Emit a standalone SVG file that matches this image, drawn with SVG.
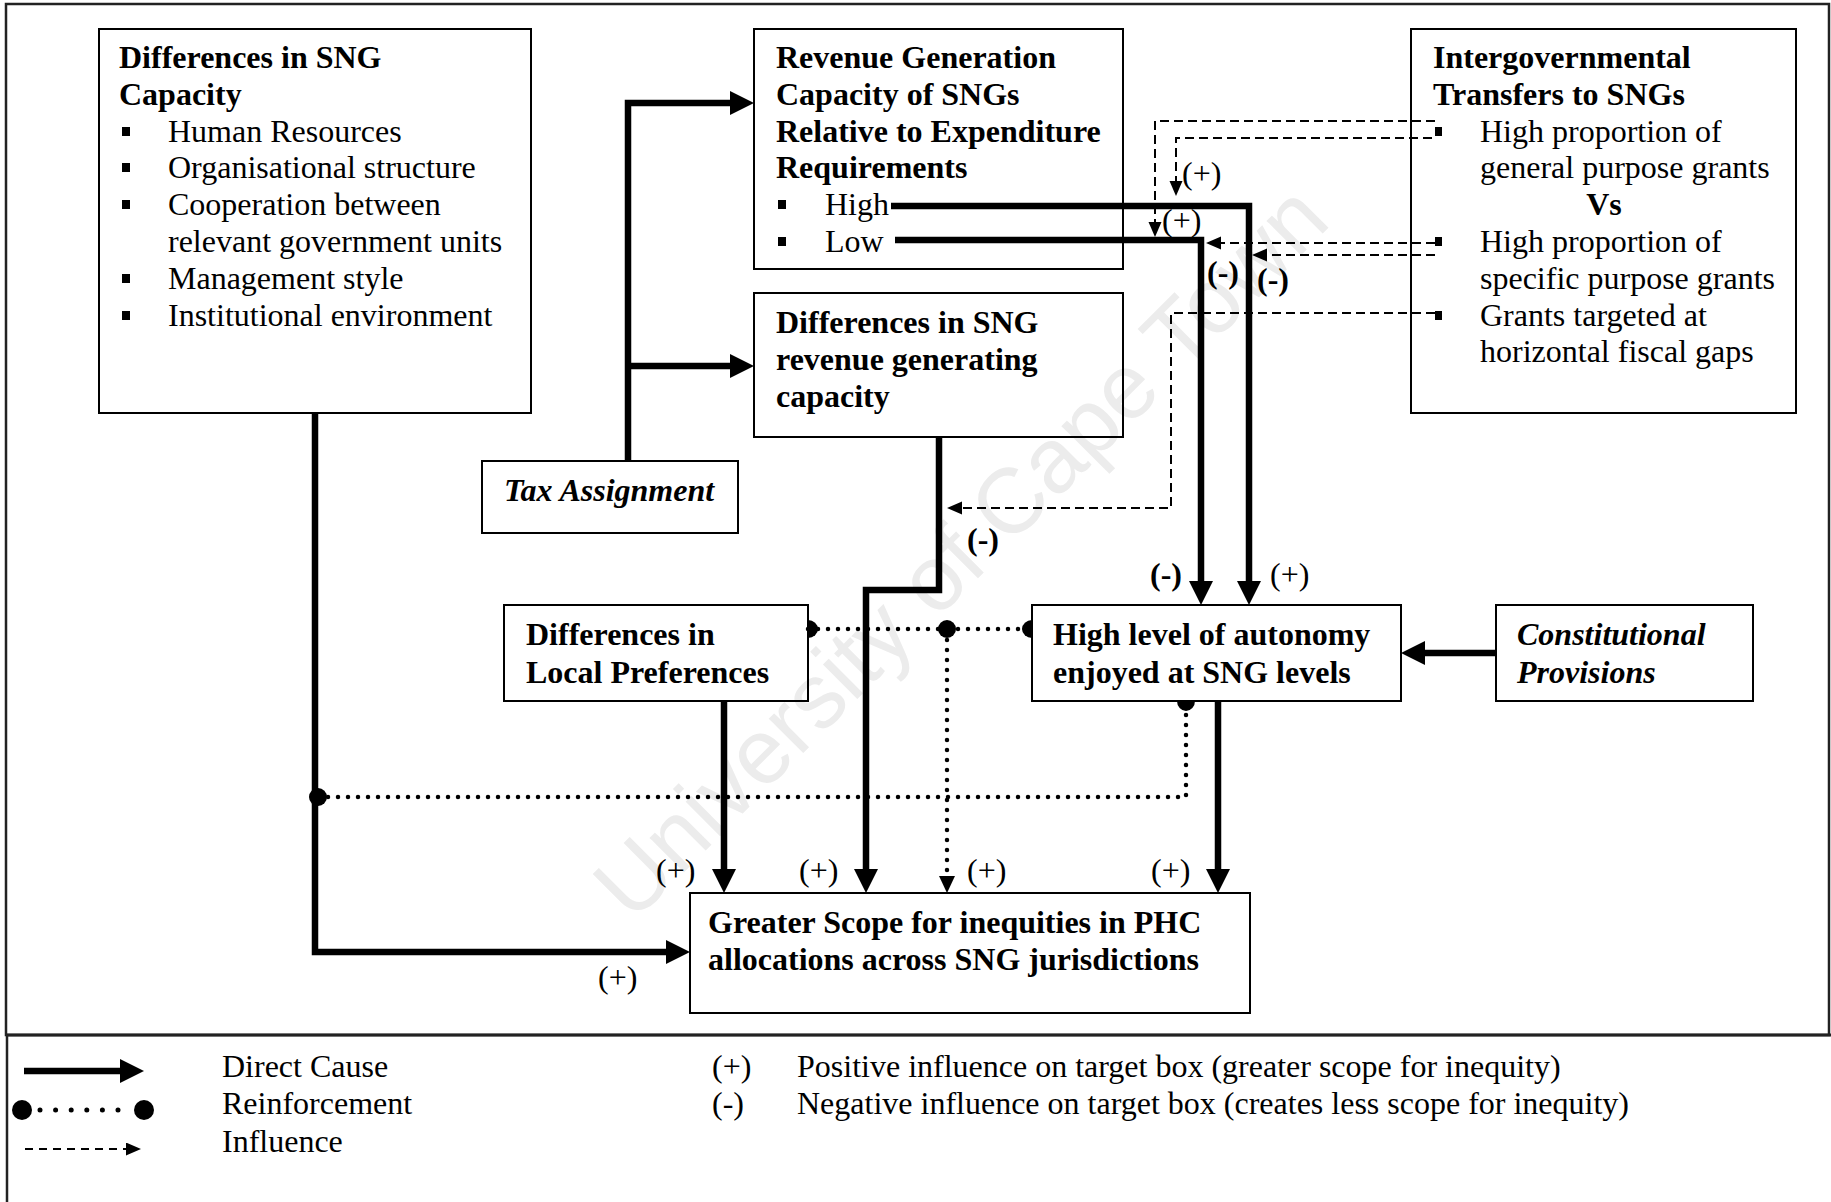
<svg xmlns="http://www.w3.org/2000/svg" width="1831" height="1202" viewBox="0 0 1831 1202">
<defs>
<style>
text{font-family:"Liberation Serif","Times New Roman",serif;font-size:32px;fill:#000}
.b{font-weight:bold}
.bi{font-weight:bold;font-style:italic}
.box{fill:none;stroke:#000;stroke-width:2}
.frame{fill:none;stroke:#222;stroke-width:2.5}
.dc{fill:none;stroke:#000;stroke-width:6.5;stroke-linejoin:miter}
.rf{fill:none;stroke:#000;stroke-width:4.5;stroke-dasharray:0 10;stroke-linecap:round}
.inf{fill:none;stroke:#000;stroke-width:2;stroke-dasharray:9 5}
.wm{font-family:"Liberation Sans",Arial,sans-serif;font-size:92px;fill:#ececec}
.bul{fill:#000}
</style>
<marker id="ah" markerUnits="userSpaceOnUse" markerWidth="26" markerHeight="26" refX="1" refY="12" orient="auto"><path d="M0,0 L24,12 L0,24 z"/></marker>
<marker id="ahs" markerUnits="userSpaceOnUse" markerWidth="16" markerHeight="14" refX="1" refY="6.5" orient="auto"><path d="M0,0 L15,6.5 L0,13 z"/></marker>
<marker id="ahd" markerUnits="userSpaceOnUse" markerWidth="18" markerHeight="17" refX="1" refY="8" orient="auto"><path d="M0,0 L17,8 L0,16 z"/></marker>
</defs>
<rect width="1831" height="1202" fill="#fff"/>
<text class="wm" transform="translate(960,551) rotate(-45)" x="0" y="32" text-anchor="middle">University of Cape Town</text>
<rect class="frame" x="6" y="4" width="1823" height="1031"/>
<g id="connectors">
  <path class="rf" d="M808,629 H1032"/>
  <path class="rf" d="M947,640 V877" marker-end="url(#ahd)"/>
  <path class="rf" d="M318,797 H1186 V708"/>
  <path d="M808,620 A10,9 0 0 1 808,638 z"/>
  <ellipse cx="947" cy="629" rx="9" ry="9"/>
  <path d="M1032,620 A10,9 0 0 0 1032,638 z"/>
  <path d="M1177,701 A9,10 0 0 0 1195,701 z"/>
  <circle cx="318" cy="797" r="9"/>
  <path class="dc" d="M628,461 V103 H731" marker-end="url(#ah)"/>
  <path class="dc" d="M628,366 H731" marker-end="url(#ah)"/>
  <path class="dc" d="M315,413 V952 H667" marker-end="url(#ah)"/>
  <path class="dc" d="M939,437 V590 H866 V870" marker-end="url(#ah)"/>
  <path class="dc" d="M724,701 V870" marker-end="url(#ah)"/>
  <path class="dc" d="M1218,701 V870" marker-end="url(#ah)"/>
  <path class="dc" d="M1496,653 H1424" marker-end="url(#ah)"/>
  <path class="dc" d="M891,206 H1249 V582" marker-end="url(#ah)"/>
  <path class="dc" d="M895,240 H1201 V582" marker-end="url(#ah)"/>
  <path class="inf" d="M1435,121 H1155 V223" marker-end="url(#ahs)"/>
  <path class="inf" d="M1432,138 H1176 V182" marker-end="url(#ahs)"/>
  <path class="inf" d="M1435,243 H1220" marker-end="url(#ahs)"/>
  <path class="inf" d="M1435,255 H1266" marker-end="url(#ahs)"/>
  <path class="inf" d="M1435,313 H1171 V508 H961" marker-end="url(#ahs)"/>
  <text x="1182" y="184">(+)</text>
  <text x="1162" y="231">(+)</text>
  <text class="b" x="1207" y="283">(-)</text>
  <text class="b" x="1257" y="290">(-)</text>
  <text class="b" x="967" y="550">(-)</text>
  <text class="b" x="1150" y="585">(-)</text>
  <text x="1270" y="585">(+)</text>
  <text x="656" y="881">(+)</text>
  <text x="799" y="881">(+)</text>
  <text x="967" y="881">(+)</text>
  <text x="1151" y="881">(+)</text>
  <text x="598" y="988">(+)</text>
</g>
<g id="node-sng-capacity">
  <rect class="box" x="99" y="29" width="432" height="384"/>
  <text class="b" x="119" y="68">Differences in SNG</text>
  <text class="b" x="119" y="105">Capacity</text>
  <rect class="bul" x="122" y="127" width="8" height="9"/>
  <text x="168" y="142">Human Resources</text>
  <rect class="bul" x="122" y="163" width="8" height="9"/>
  <text x="168" y="178">Organisational structure</text>
  <rect class="bul" x="122" y="200" width="8" height="9"/>
  <text x="168" y="215">Cooperation between</text>
  <text x="168" y="252">relevant government units</text>
  <rect class="bul" x="122" y="274" width="8" height="9"/>
  <text x="168" y="289">Management style</text>
  <rect class="bul" x="122" y="311" width="8" height="9"/>
  <text x="168" y="326">Institutional environment</text>
</g>
<g id="node-revenue-capacity">
  <rect class="box" x="754" y="29" width="369" height="240"/>
  <text class="b" x="776" y="68">Revenue Generation</text>
  <text class="b" x="776" y="105">Capacity of SNGs</text>
  <text class="b" x="776" y="142">Relative to Expenditure</text>
  <text class="b" x="776" y="178">Requirements</text>
  <rect class="bul" x="778" y="200" width="8" height="9"/>
  <text x="825" y="215">High</text>
  <rect class="bul" x="778" y="237" width="8" height="9"/>
  <text x="825" y="252">Low</text>
</g>
<g id="node-revenue-differences">
  <rect class="box" x="754" y="293" width="369" height="144"/>
  <text class="b" x="776" y="333">Differences in SNG</text>
  <text class="b" x="776" y="370">revenue generating</text>
  <text class="b" x="776" y="407">capacity</text>
</g>
<g id="node-transfers">
  <rect class="box" x="1411" y="29" width="385" height="384"/>
  <text class="b" x="1433" y="68">Intergovernmental</text>
  <text class="b" x="1433" y="105">Transfers to SNGs</text>
  <rect class="bul" x="1435" y="127" width="7" height="9"/>
  <text x="1480" y="142">High proportion of</text>
  <text x="1480" y="178">general purpose grants</text>
  <text class="b" x="1604" y="215" text-anchor="middle">Vs</text>
  <rect class="bul" x="1435" y="237" width="7" height="9"/>
  <text x="1480" y="252">High proportion of</text>
  <text x="1480" y="289">specific purpose grants</text>
  <rect class="bul" x="1435" y="311" width="7" height="9"/>
  <text x="1480" y="326">Grants targeted at</text>
  <text x="1480" y="362">horizontal fiscal gaps</text>
</g>
<g id="node-tax">
  <rect class="box" x="482" y="461" width="256" height="72"/>
  <text class="bi" x="504" y="501">Tax Assignment</text>
</g>
<g id="node-preferences">
  <rect class="box" x="504" y="605" width="304" height="96"/>
  <text class="b" x="526" y="645">Differences in</text>
  <text class="b" x="526" y="683">Local Preferences</text>
</g>
<g id="node-autonomy">
  <rect class="box" x="1032" y="605" width="369" height="96"/>
  <text class="b" x="1053" y="645">High level of autonomy</text>
  <text class="b" x="1053" y="683">enjoyed at SNG levels</text>
</g>
<g id="node-constitution">
  <rect class="box" x="1496" y="605" width="257" height="96"/>
  <text class="bi" x="1517" y="645">Constitutional</text>
  <text class="bi" x="1517" y="683">Provisions</text>
</g>
<g id="node-scope">
  <rect class="box" x="690" y="893" width="560" height="120"/>
  <text class="b" x="708" y="933">Greater Scope for inequities in PHC</text>
  <text class="b" x="708" y="970">allocations across SNG jurisdictions</text>
</g>
<g id="legend">
  <path d="M6,1035 H1831" stroke="#222" stroke-width="3" fill="none"/>
  <path d="M7,1035 V1202" stroke="#222" stroke-width="2.5" fill="none"/>
  <path class="dc" d="M24,1071 H121" stroke-width="7" marker-end="url(#ah)"/>
  <circle cx="22" cy="1110" r="10"/>
  <circle cx="144" cy="1110" r="10"/>
  <path class="rf" d="M40,1110 H119" style="stroke-dasharray:0 15.6;stroke-width:5"/>
  <path class="inf" d="M25,1149 H127" style="stroke-dasharray:8 6" marker-end="url(#ahs)"/>
  <text x="222" y="1077">Direct Cause</text>
  <text x="222" y="1114">Reinforcement</text>
  <text x="222" y="1152">Influence</text>
  <text x="712" y="1077">(+)</text>
  <text x="712" y="1114">(-)</text>
  <text x="797" y="1077">Positive influence on target box (greater scope for inequity)</text>
  <text x="797" y="1114">Negative influence on target box (creates less scope for inequity)</text>
</g>
</svg>
